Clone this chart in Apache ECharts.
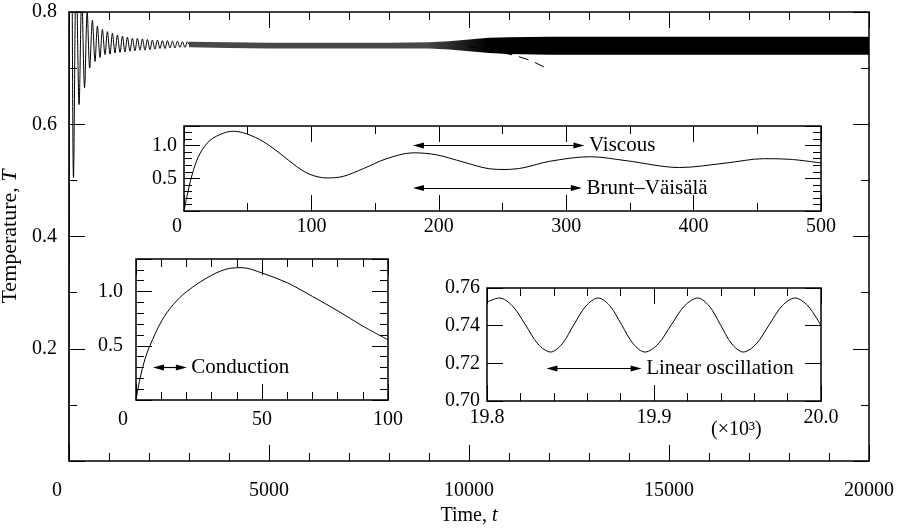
<!DOCTYPE html>
<html>
<head>
<meta charset="utf-8">
<title>Temperature, T vs Time, t</title>
<script src="https://cdn.jsdelivr.net/npm/echarts@6/dist/echarts.min.js"></script>
<style>
html, body { margin: 0; padding: 0; background: #fff; }
#report { width: 898px; height: 528px; }
</style>
</head>
<body>
<div id="report"></div>
<script>
// main run: turning points of T(t), t <= 3000
var mainRun = [
    [0, 0], [10, 0.76], [20, 1.06], [40, 1.22], [75, 0.88], [112, 0.505],
    [180, 0.89], [252, 0.635], [319, 0.83], [389, 0.665], [455, 0.80],
    [517, 0.700], [585, 0.785], [650, 0.712], [710, 0.775], [775, 0.719],
    [835, 0.769], [900, 0.724], [960, 0.765], [1025, 0.725], [1085, 0.762],
    [1150, 0.727], [1210, 0.759], [1275, 0.728], [1335, 0.757], [1400, 0.729],
    [1460, 0.755], [1525, 0.730], [1585, 0.753], [1650, 0.731], [1710, 0.753],
    [1775, 0.732], [1835, 0.752], [1900, 0.732], [1960, 0.751], [2025, 0.733],
    [2085, 0.750], [2150, 0.734], [2210, 0.750], [2275, 0.735], [2335, 0.749],
    [2400, 0.735], [2460, 0.749], [2525, 0.736], [2585, 0.748], [2650, 0.736],
    [2710, 0.748], [2775, 0.737], [2835, 0.747], [2900, 0.737], [2960, 0.747],
    [3000, 0.742]
];
// later on the oscillation is too dense to resolve: upper / lower edge of the band
var bandTime  = [3000, 4000, 5000, 6000, 7000, 8000, 9000, 9500, 10000, 10500, 11000, 12000, 20000];
var bandUpper = [0.747, 0.746, 0.745, 0.745, 0.745, 0.745, 0.746, 0.748, 0.751, 0.754, 0.755, 0.756, 0.756];
var bandLower = [0.737, 0.736, 0.735, 0.735, 0.735, 0.735, 0.735, 0.733, 0.730, 0.727, 0.725, 0.724, 0.724];
// dashed curve leaving the band
var fitRun = [[10000, 0.738], [10435, 0.734], [10743, 0.729], [11185, 0.722], [11560, 0.713], [11850, 0.703], [11935, 0.700]];

// inset t = 0..500
var bvRun = [
    [0, 0], [3.4, 0.32], [7.3, 0.62], [12.6, 0.88], [20.4, 1.08], [30.9, 1.19],
    [38.7, 1.22], [49.2, 1.18], [62.3, 1.06], [75.4, 0.88], [88.4, 0.68],
    [98.9, 0.56], [112, 0.505], [125, 0.53], [141, 0.65], [159, 0.80],
    [180, 0.89], [198, 0.86], [219, 0.75], [240, 0.645], [252, 0.635],
    [266, 0.66], [287, 0.76], [319, 0.83], [347, 0.77], [389, 0.665],
    [426, 0.735], [455, 0.80], [476, 0.79], [500, 0.735]
];
// inset t = 0..100
var condRun = [
    [0, 0], [1.6, 0.2], [3.6, 0.38], [5.5, 0.5], [10.2, 0.73], [14.8, 0.88],
    [20.1, 1.0], [30, 1.15], [37.5, 1.215], [42, 1.22], [50.1, 1.17],
    [60.1, 1.08], [70, 0.955], [80.2, 0.82], [90.1, 0.68], [100, 0.555]
];
// inset t = 19.8..20.0 (x10^3)
var linRun = [
    [19.800, 0.7525], [19.8074, 0.7547], [19.8152, 0.7505], [19.823, 0.7405],
    [19.8305, 0.7303], [19.8381, 0.726], [19.845, 0.7303], [19.852, 0.7405],
    [19.8593, 0.7505], [19.8666, 0.7547], [19.8736, 0.7505], [19.8806, 0.7405],
    [19.8876, 0.7303], [19.8946, 0.726], [19.9025, 0.7303], [19.9104, 0.7405],
    [19.9183, 0.7505], [19.9262, 0.7547], [19.933, 0.7505], [19.9398, 0.7405],
    [19.9466, 0.7303], [19.9535, 0.726], [19.9612, 0.7303], [19.969, 0.7405],
    [19.9767, 0.7505], [19.9844, 0.7547], [19.9922, 0.7505], [20.000, 0.7400]
];

// arrows: [from, to, level]
var viscousArrow = [184, 310, 1.0];
var bruntArrow = [184, 308, 0.35];
var condArrow = [8.9, 18.0, 0.30];
var linArrow = [19.8389, 19.8893, 0.7172];

// tick labels
var mainXTicks = ['0', '5000', '10000', '15000', '20000'];
var mainYTicks = ['0.2', '0.4', '0.6', '0.8'];
var bvXTicks = ['0', '100', '200', '300', '400', '500'];
var bvYTicks = ['0.5', '1.0'];
var condXTicks = ['0', '50', '100'];
var condYTicks = ['0.5', '1.0'];
var linXTicks = ['19.8', '19.9', '20.0'];
var linYTicks = ['0.70', '0.72', '0.74', '0.76'];

var FONT = 'Liberation Serif';
var BLACK = '#000';
var xAxes = [];
var yAxes = [];

// only the listed values get a label; a leading '0' can be pushed left
function tickLabel(labels, margin, shift) {
    var lab = {
        show: true, margin: margin, color: BLACK, fontFamily: FONT, fontSize: 20,
        formatter: function (v) {
            for (var i = 0; i < labels.length; i++) {
                if (Math.abs(parseFloat(labels[i]) - v) < 1e-6) {
                    return (shift && i === 0) ? '{z|' + labels[i] + '}' : labels[i];
                }
            }
            return '';
        }
    };
    if (shift) {
        lab.rich = { z: { fontFamily: FONT, fontSize: 20, color: BLACK, padding: [0, shift, 0, 0] } };
    }
    return lab;
}

function addAxis(list, grid, pos, range, step, len, label) {
    list.push({
        type: 'value', gridIndex: grid, position: pos,
        min: range[0], max: range[1], interval: step,
        axisLine: { show: false, onZero: false },
        axisTick: { show: true, inside: true, length: len, lineStyle: { color: BLACK, width: 1 } },
        axisLabel: label || { show: false },
        splitLine: { show: false }
    });
    return list.length - 1;
}

// framed panel, long ticks at major steps and short ones at minor steps, on all four sides
function panel(grid, xr, xMajor, xMinor, xLabel, yr, yMajor, yMinor, yLabel) {
    var xi = addAxis(xAxes, grid, 'bottom', xr, xMajor, 16, xLabel);
    addAxis(xAxes, grid, 'top', xr, xMajor, 16);
    if (xMinor) {
        addAxis(xAxes, grid, 'bottom', xr, xMinor, 8);
        addAxis(xAxes, grid, 'top', xr, xMinor, 8);
    }
    var yi = addAxis(yAxes, grid, 'left', yr, yMajor, 16, yLabel);
    addAxis(yAxes, grid, 'right', yr, yMajor, 16);
    if (yMinor) {
        addAxis(yAxes, grid, 'left', yr, yMinor, 8);
        addAxis(yAxes, grid, 'right', yr, yMinor, 8);
    }
    return { x: xi, y: yi };
}

var main = panel(0, [0, 20000], 5000, 1000, tickLabel(mainXTicks, 20, 24),
    [0, 0.8], 0.2, 0.1, tickLabel(mainYTicks, 12));
var bv = panel(1, [0, 500], 100, 50, tickLabel(bvXTicks, 6, 14),
    [0, 1.3], 0.5, 0.1, tickLabel(bvYTicks, 7));
var cond = panel(2, [0, 100], 50, 10, tickLabel(condXTicks, 10, 26),
    [0, 1.3], 0.5, 0.1, tickLabel(condYTicks, 13));
var lin = panel(3, [19.8, 20.0], 0.1, 0.02, tickLabel(linXTicks, 7),
    [0.70, 0.76], 0.02, null, tickLabel(linYTicks, 7));

// axis titles of the big plot
function nameStyle(size) {
    return {
        fontFamily: FONT, fontSize: size, color: BLACK,
        rich: { i: { fontFamily: FONT, fontSize: size, color: BLACK, fontStyle: 'italic' } }
    };
}
xAxes[main.x].name = 'Time, {i|t}';
xAxes[main.x].nameLocation = 'middle';
xAxes[main.x].nameGap = 41;
xAxes[main.x].nameTextStyle = nameStyle(20);
yAxes[main.y].name = 'Temperature, {i|T}';
yAxes[main.y].nameLocation = 'middle';
yAxes[main.y].nameGap = 46;
yAxes[main.y].nameTextStyle = nameStyle(22);

function frame(left, top, width, height) {
    return {
        left: left, top: top, width: width, height: height,
        outerBoundsMode: 'none', containLabel: false,
        show: true, borderColor: BLACK, borderWidth: 1.5, backgroundColor: 'transparent'
    };
}

function arrowLine(a, name) {
    return [
        { coord: [a[0], a[2]], name: name, symbolSize: [6, 11] },
        { coord: [a[1], a[2]], symbolSize: [6, 11] }
    ];
}

function arrows(list) {
    return {
        silent: true,
        symbol: ['triangle', 'triangle'],
        symbolSize: 10,
        precision: 6,
        lineStyle: { color: BLACK, width: 1.2, type: 'solid' },
        label: {
            show: true, position: 'end', distance: 10, formatter: '{b}',
            color: BLACK, fontFamily: FONT, fontSize: 21
        },
        emphasis: { disabled: true },
        data: list
    };
}

// smooth 0.33 keeps the spline close to Catmull-Rom, no bulges between points
function lineSeries(ax, data, extra) {
    var s = {
        type: 'line', xAxisIndex: ax.x, yAxisIndex: ax.y, data: data,
        showSymbol: false, smooth: 0.33, silent: true,
        lineStyle: { color: BLACK, width: 1 }
    };
    for (var k in extra) { s[k] = extra[k]; }
    return s;
}

var myChart = echarts.init(document.getElementById('report'));
var option = {
    animation: false,
    backgroundColor: '#fff',
    grid: [
        frame(69, 12, 800, 449),
        frame(184, 126, 637, 85),
        frame(136, 259, 252, 141),
        frame(487, 288, 334, 113)
    ],
    xAxis: xAxes,
    yAxis: yAxes,
    graphic: [{
        type: 'text', left: 711, top: 420,
        style: { text: '(\u00d710\u00b3)', font: '20px "Liberation Serif"', fill: BLACK }
    }],
    series: [
        {
            type: 'custom', xAxisIndex: main.x, yAxisIndex: main.y, silent: true,
            data: [[bandTime[0], bandUpper[0], bandLower[0]]],
            encode: { x: 0, y: [1, 2] },
            renderItem: function (params, api) {
                var pts = [];
                for (var i = 0; i < bandTime.length; i++) {
                    pts.push(api.coord([bandTime[i], bandUpper[i]]));
                }
                for (var j = bandTime.length - 1; j >= 0; j--) {
                    pts.push(api.coord([bandTime[j], bandLower[j]]));
                }
                return {
                    type: 'polygon',
                    shape: { points: pts },
                    style: {
                        fill: new echarts.graphic.LinearGradient(0, 0, 1, 0, [
                            { offset: 0, color: '#474747' },
                            { offset: 0.35, color: '#474747' },
                            { offset: 0.44, color: '#000' },
                            { offset: 1, color: '#000' }
                        ])
                    }
                };
            }
        },
        lineSeries(main, mainRun, {}),
        lineSeries(main, fitRun, { smooth: false, lineStyle: { color: BLACK, width: 1, type: [10, 7] } }),
        lineSeries(bv, bvRun, {
            markLine: arrows([arrowLine(viscousArrow, 'Viscous'), arrowLine(bruntArrow, 'Brunt\u2013V\u00e4is\u00e4l\u00e4')])
        }),
        lineSeries(cond, condRun, { markLine: arrows([arrowLine(condArrow, 'Conduction')]) }),
        lineSeries(lin, linRun, { markLine: arrows([arrowLine(linArrow, 'Linear oscillation')]) })
    ]
};
myChart.setOption(option);
</script>
</body>
</html>
